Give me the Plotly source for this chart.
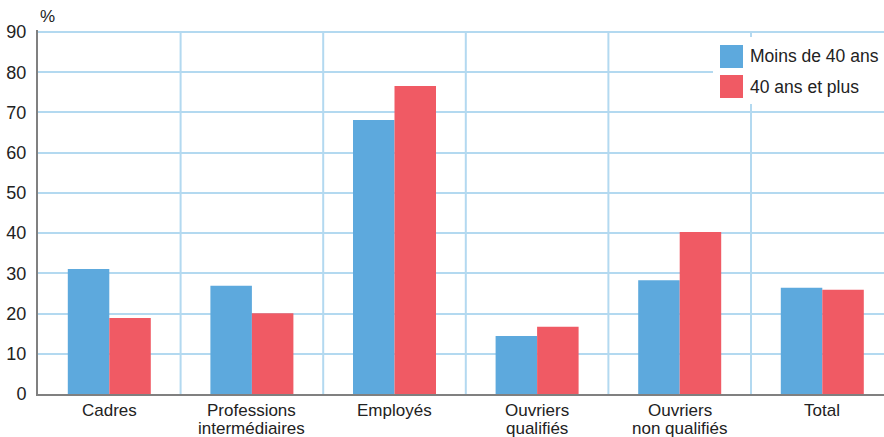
import plotly.graph_objects as go

categories = ["Cadres", "Professions<br>intermédiaires", "Employés", "Ouvriers<br>qualifiés",
              "Ouvriers<br>non qualifiés", "Total"]
moins_40 = [31.1, 26.9, 68.1, 14.4, 28.3, 26.4]
plus_40 = [18.9, 20.1, 76.6, 16.7, 40.3, 25.9]
series_names = ["Moins de 40 ans", "40 ans et plus"]
y_ticks = [0, 10, 20, 30, 40, 50, 60, 70, 80, 90]

BLUE = "#5DA9DD"
RED = "#F05A64"
GRID = "#B3D9F0"
AXIS = "#808080"
FONT = "Liberation Sans, Arial, sans-serif"
FS = 17

W, H = 884, 437
L, R, T, B = 38, 0, 30, 43
PW, PH = W - L - R, H - T - B


def px(x):
    return (x - L) / PW


def py(y):
    return (H - B - y) / PH


n = len(categories)
idx = list(range(n))

fig = go.Figure()
fig.add_trace(go.Bar(x=idx, y=moins_40, name=series_names[0], marker_color=BLUE,
                     marker_line_width=0, showlegend=False))
fig.add_trace(go.Bar(x=idx, y=plus_40, name=series_names[1], marker_color=RED,
                     marker_line_width=0, showlegend=False))

shapes = []
# vertical category separators
for i in range(n):
    shapes.append(dict(type="line", xref="x", yref="y", x0=i + 0.5, x1=i + 0.5,
                       y0=0, y1=90, line=dict(color=GRID, width=2), layer="below"))

# custom legend
shapes.append(dict(type="rect", xref="paper", yref="paper", x0=px(713), x1=px(884),
                   y0=py(104), y1=py(37), fillcolor="white", line=dict(width=0), layer="above"))
annotations = []
for k, (name, col) in enumerate(zip(series_names, [BLUE, RED])):
    top = 45 + 30 * k
    shapes.append(dict(type="rect", xref="paper", yref="paper", x0=px(720), x1=px(743),
                       y0=py(top + 23), y1=py(top), fillcolor=col, line=dict(width=0),
                       layer="above"))
    annotations.append(dict(text=name, xref="paper", yref="paper", x=px(748), y=py(top + 11.5),
                            xanchor="left", yanchor="middle", showarrow=False,
                            font=dict(size=FS + 0.5, color="#222", family=FONT)))

annotations.append(dict(text="%", xref="paper", yref="paper", x=px(38), y=py(17),
                        xanchor="left", yanchor="middle", showarrow=False,
                        font=dict(size=FS, color="#222", family=FONT)))

# category labels, with tight line spacing like the reference
for i, cat in enumerate(categories):
    for j, line in enumerate(cat.split("<br>")):
        annotations.append(dict(text=line, xref="x", yref="paper", x=i, y=py(410 + 18 * j),
                                xanchor="center", yanchor="middle", showarrow=False,
                                font=dict(size=FS, color="#222", family=FONT)))

fig.update_layout(
    width=W, height=H,
    margin=dict(l=L, r=R, t=T, b=B, pad=0, autoexpand=False),
    paper_bgcolor="white", plot_bgcolor="white",
    barmode="group", bargap=0.418, bargroupgap=0,
    font=dict(family=FONT, size=FS, color="#222"),
    shapes=shapes, annotations=annotations,
    xaxis=dict(range=[-0.5, -0.5 + PW / 142.6], tickmode="array", tickvals=idx,
               showticklabels=False, showgrid=False, zeroline=False, automargin=False,
               showline=True, linecolor=AXIS, linewidth=2, ticks=""),
    yaxis=dict(range=[0, 90.5], tickmode="array", tickvals=y_ticks, showgrid=True,
               gridcolor=GRID, gridwidth=2, zeroline=False, showline=True, automargin=False,
               linecolor=AXIS, linewidth=2, ticks="", tickfont=dict(size=18, color="#222"),
               ticklabelstandoff=6),
)

fig.write_html("out.html")
